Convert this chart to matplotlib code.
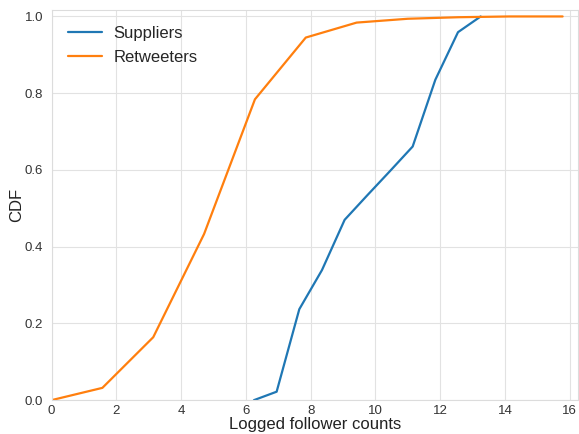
import matplotlib
matplotlib.use("Agg")
import matplotlib.pyplot as plt
import seaborn as sns

sup_x = [6.25, 6.95, 7.65, 8.35, 9.05, 9.75, 10.45, 11.15, 11.85, 12.55, 13.25]
sup_cdf = [0.0, 0.022, 0.237, 0.339, 0.47, 0.534, 0.597, 0.661, 0.835, 0.959, 1.0]

ret_x = [0.0, 1.57, 3.14, 4.71, 6.28, 7.85, 9.42, 11.0, 12.57, 14.14, 15.78]
ret_cdf = [0.0, 0.032, 0.164, 0.433, 0.784, 0.945, 0.984, 0.994, 0.998, 1.0, 1.0]

sns.set_style("whitegrid", {"grid.color": "#e2e2e2", "axes.edgecolor": "#dcdcdc"})
plt.rcParams["font.family"] = ["Liberation Sans", "DejaVu Sans"]

fig, ax = plt.subplots(figsize=(5.79, 4.34), dpi=100)
fig.subplots_adjust(left=0.089, right=0.998, top=0.978, bottom=0.078)

ax.plot(sup_x, sup_cdf, color="#1f77b4", lw=1.6, label="Suppliers")
ax.plot(ret_x, ret_cdf, color="#ff7f0e", lw=1.6, label="Retweeters")

ax.set_xlim(0, 16.25)
ax.set_ylim(0, 1.018)
ax.set_xticks(range(0, 17, 2))
ax.set_yticks([0.0, 0.2, 0.4, 0.6, 0.8, 1.0])
ax.tick_params(axis="x", labelsize=9.5, pad=0, labelcolor="#333333")
ax.tick_params(axis="y", labelsize=9.5, pad=2.5, labelcolor="#333333")
ax.set_xlabel("Logged follower counts", fontsize=12, color="#222222")
ax.set_ylabel("CDF", fontsize=12, color="#222222")
ax.xaxis.set_label_coords(0.5, -0.043)
ax.yaxis.set_label_coords(-0.052, 0.5)
ax.legend(loc="upper left", fontsize=12, frameon=False, borderaxespad=0.6,
          handletextpad=0.7)

fig.savefig("out.png", dpi=100)
